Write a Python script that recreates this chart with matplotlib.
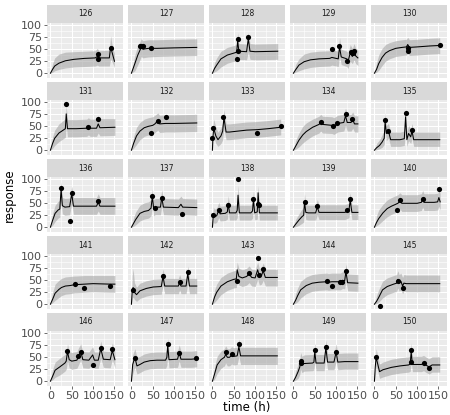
import matplotlib
matplotlib.use("Agg")
import matplotlib.pyplot as plt
from matplotlib.ticker import FixedLocator

# pannelli (soggetti)
ids = list(range(126, 151))

# curva mediana: tempi e valori per pannello
line_t = [
    [0, 5, 10, 20, 35, 55, 80, 105, 110, 113, 116, 138, 141, 144, 150],
    [0, 8, 15, 20, 23, 27, 32, 40, 60, 100, 153],
    [0, 5, 10, 20, 35, 50, 57, 59, 62, 80, 84, 88, 100, 153],
    [0, 5, 13, 25, 40, 60, 85, 90, 95, 105, 108, 112, 125, 128, 133, 138, 142, 146, 151],
    [0, 5, 10, 18, 26, 35, 50, 65, 75, 78, 82, 100, 130, 153],
    [0, 5, 10, 20, 30, 35, 37, 40, 60, 85, 89, 93, 108, 112, 116, 151],
    [0, 5, 12, 20, 30, 40, 50, 55, 62, 66, 80, 100, 153],
    [0, 1, 3, 8, 13, 20, 24, 27, 32, 40, 60, 80, 105, 130, 160],
    [0, 5, 13, 22, 30, 45, 60, 64, 68, 90, 95, 100, 104, 118, 122, 126, 135, 139, 143, 151],
    [0, 5, 12, 18, 23, 25, 28, 33, 38, 60, 70, 73, 76, 80, 85, 88, 92, 110, 153],
    [0, 5, 11, 18, 22, 25, 28, 34, 45, 50, 54, 100, 108, 112, 116, 151],
    [0, 5, 10, 20, 30, 40, 46, 49, 52, 56, 68, 71, 75, 110, 116, 120, 153],
    [0, 2, 5, 10, 15, 18, 30, 35, 37, 40, 55, 58, 60, 63, 90, 94, 96, 99, 105, 107, 110, 152],
    [0, 5, 13, 20, 24, 26, 29, 35, 52, 56, 60, 120, 126, 130, 133, 137, 151],
    [0, 5, 10, 20, 30, 40, 55, 60, 64, 100, 110, 113, 116, 140, 148, 151, 154],
    [0, 5, 11, 20, 26, 35, 46, 57, 60, 80, 100, 140, 151],
    [0, 2, 4, 7, 12, 20, 35, 51, 70, 74, 78, 110, 113, 116, 128, 132, 136, 153],
    [0, 5, 10, 20, 35, 50, 56, 58, 62, 70, 80, 86, 92, 100, 106, 110, 115, 119, 124, 152],
    [0, 5, 10, 17, 30, 44, 60, 78, 82, 90, 110, 115, 120, 123, 127, 151],
    [0, 5, 10, 19, 30, 45, 52, 55, 58, 62, 66, 69, 75, 100, 153],
    [0, 5, 11, 22, 34, 37, 40, 44, 50, 62, 66, 71, 76, 90, 99, 103, 112, 118, 124, 140, 145, 151],
    [0, 3, 8, 13, 20, 30, 44, 60, 80, 83, 85, 88, 108, 112, 116, 140, 153],
    [0, 5, 11, 20, 28, 31, 35, 40, 45, 50, 58, 62, 66, 100, 152],
    [0, 5, 11, 15, 17, 20, 25, 45, 48, 50, 53, 72, 76, 80, 95, 100, 104, 120, 151],
    [0, 2, 4, 8, 12, 20, 40, 60, 80, 84, 86, 89, 110, 115, 120, 128, 135, 153],
]
line_y = [
    [0, 8, 15, 21, 26, 29, 31, 32, 35, 32, 32, 32, 55, 45, 25],
    [0, 20, 38, 48, 55, 50, 51, 52, 52, 53, 54],
    [0, 10, 17, 30, 38, 42, 44, 68, 46, 45, 72, 46, 45, 46],
    [0, 7, 17, 24, 28, 30, 31, 33, 32, 30, 55, 34, 30, 25, 42, 35, 45, 36, 32],
    [0, 8, 20, 33, 42, 47, 52, 54, 55, 60, 54, 55, 57, 58],
    [0, 14, 25, 36, 42, 45, 76, 45, 45, 46, 49, 46, 46, 55, 47, 48],
    [0, 14, 30, 40, 47, 50, 52, 55, 62, 55, 56, 56, 57],
    [0, 25, 46, 30, 22, 30, 40, 68, 38, 38, 40, 42, 43, 45, 48],
    [0, 8, 21, 32, 39, 48, 54, 58, 54, 52, 50, 53, 56, 58, 72, 58, 58, 64, 55, 55],
    [0, 5, 10, 17, 25, 60, 35, 40, 22, 22, 24, 70, 22, 35, 28, 40, 22, 22, 22],
    [0, 14, 29, 36, 38, 80, 45, 42, 43, 70, 44, 44, 44, 52, 44, 44],
    [0, 8, 16, 29, 33, 35, 40, 64, 40, 42, 42, 62, 42, 41, 48, 42, 41],
    [0, 25, 22, 24, 36, 28, 29, 32, 50, 30, 30, 35, 67, 30, 30, 34, 58, 30, 32, 72, 30, 30],
    [0, 6, 15, 22, 25, 53, 31, 30, 30, 42, 31, 31, 33, 35, 56, 31, 31],
    [0, 10, 18, 30, 39, 44, 50, 55, 50, 50, 52, 60, 52, 52, 53, 62, 53],
    [0, 10, 23, 31, 35, 38, 39, 41, 41, 42, 43, 42, 42],
    [0, 30, 35, 25, 20, 28, 33, 36, 37, 58, 38, 38, 46, 38, 38, 64, 38, 38],
    [0, 15, 25, 38, 47, 52, 53, 72, 58, 55, 58, 63, 56, 55, 72, 58, 60, 70, 56, 56],
    [0, 8, 18, 30, 39, 44, 46, 47, 46, 47, 47, 50, 49, 68, 45, 44],
    [0, 6, 14, 30, 37, 42, 44, 52, 44, 48, 38, 44, 43, 43, 43],
    [0, 10, 23, 30, 38, 42, 62, 45, 42, 44, 52, 62, 45, 44, 55, 44, 44, 68, 46, 45, 64, 45],
    [0, 35, 50, 32, 35, 40, 43, 44, 44, 50, 75, 45, 46, 60, 46, 46, 47],
    [0, 15, 34, 45, 50, 56, 50, 50, 54, 52, 53, 72, 53, 53, 53],
    [0, 8, 20, 30, 42, 34, 37, 38, 40, 62, 38, 38, 70, 40, 40, 61, 40, 41, 41],
    [0, 30, 50, 35, 20, 24, 29, 32, 34, 36, 62, 35, 35, 37, 34, 30, 34, 34],
]
# banda grigia (limiti inferiore e superiore)
band_lo = [
    [0, 2, 5, 8, 11, 13, 14, 15, 17, 15, 15, 15, 30, 25, 12],
    [0, 5, 18, 28, 35, 32, 33, 34, 35, 36, 37],
    [0, 3, 5, 13, 21, 25, 27, 40, 29, 28, 45, 29, 28, 29],
    [0, 2, 5, 9, 12, 14, 15, 17, 16, 14, 35, 18, 14, 10, 25, 20, 28, 20, 16],
    [0, 2, 6, 16, 25, 30, 35, 37, 38, 42, 37, 38, 40, 41],
    [0, 4, 10, 18, 24, 27, 50, 28, 28, 29, 32, 29, 29, 36, 30, 31],
    [0, 4, 12, 22, 29, 32, 34, 37, 42, 37, 38, 38, 39],
    [0, 10, 28, 14, 8, 14, 22, 45, 22, 22, 24, 26, 27, 29, 32],
    [0, 2, 7, 15, 21, 30, 36, 40, 36, 35, 33, 36, 38, 40, 52, 40, 40, 46, 38, 38],
    [0, 1, 3, 6, 12, 40, 20, 25, 8, 8, 10, 50, 8, 20, 14, 25, 8, 8, 8],
    [0, 4, 12, 19, 21, 55, 28, 25, 26, 50, 27, 27, 27, 34, 27, 27],
    [0, 2, 5, 13, 17, 19, 24, 45, 24, 26, 26, 44, 26, 25, 32, 26, 25],
    [0, 10, 8, 10, 20, 13, 14, 17, 32, 15, 15, 20, 45, 15, 15, 19, 40, 15, 17, 50, 15, 15],
    [0, 1, 4, 8, 11, 35, 16, 15, 15, 26, 16, 16, 18, 20, 38, 16, 16],
    [0, 3, 6, 14, 22, 27, 33, 38, 33, 33, 35, 42, 35, 35, 36, 44, 36],
    [0, 3, 8, 14, 18, 21, 22, 24, 24, 25, 26, 25, 25],
    [0, 10, 15, 10, 6, 12, 17, 20, 21, 40, 22, 22, 30, 22, 22, 45, 22, 22],
    [0, 4, 9, 20, 29, 34, 35, 52, 40, 37, 40, 45, 38, 37, 52, 40, 42, 50, 38, 38],
    [0, 2, 5, 13, 22, 27, 29, 30, 29, 30, 30, 33, 32, 48, 28, 27],
    [0, 1, 4, 13, 20, 25, 27, 34, 27, 30, 22, 27, 26, 26, 26],
    [0, 3, 8, 13, 21, 25, 42, 28, 25, 27, 35, 44, 28, 27, 37, 27, 27, 48, 29, 28, 45, 28],
    [0, 15, 30, 15, 18, 23, 26, 27, 27, 33, 55, 28, 29, 42, 29, 29, 30],
    [0, 4, 16, 27, 32, 38, 32, 32, 36, 34, 35, 52, 35, 35, 35],
    [0, 2, 6, 14, 25, 18, 21, 22, 24, 42, 22, 22, 50, 24, 24, 42, 24, 25, 25],
    [0, 12, 32, 20, 6, 9, 14, 17, 19, 21, 42, 20, 20, 22, 19, 15, 19, 19],
]
band_hi = [
    [0, 20, 32, 40, 44, 45, 46, 47, 52, 47, 47, 48, 78, 62, 42],
    [0, 38, 58, 66, 72, 68, 69, 70, 70, 71, 72],
    [0, 22, 32, 46, 54, 58, 60, 85, 62, 61, 85, 62, 61, 62],
    [0, 18, 30, 40, 44, 46, 47, 50, 48, 46, 75, 50, 46, 42, 60, 52, 62, 52, 48],
    [0, 22, 38, 52, 60, 64, 68, 70, 71, 75, 70, 71, 73, 74],
    [0, 28, 42, 55, 62, 66, 92, 64, 64, 65, 68, 65, 65, 72, 66, 66],
    [0, 28, 48, 58, 65, 68, 70, 73, 78, 73, 74, 74, 75],
    [0, 45, 65, 48, 38, 46, 58, 85, 55, 55, 57, 59, 60, 62, 65],
    [0, 20, 36, 50, 57, 65, 71, 75, 71, 70, 68, 71, 73, 75, 88, 75, 75, 80, 72, 72],
    [0, 14, 22, 32, 42, 78, 52, 56, 38, 38, 40, 88, 38, 52, 44, 56, 38, 38, 38],
    [0, 28, 46, 54, 56, 95, 62, 60, 61, 86, 62, 62, 62, 70, 62, 62],
    [0, 20, 32, 46, 51, 53, 58, 80, 58, 60, 60, 78, 60, 59, 65, 60, 59],
    [0, 42, 38, 40, 52, 44, 45, 48, 66, 46, 46, 52, 88, 46, 46, 50, 76, 46, 48, 88, 46, 46],
    [0, 16, 28, 38, 42, 70, 47, 46, 46, 58, 47, 47, 49, 51, 72, 47, 47],
    [0, 24, 36, 48, 57, 62, 68, 72, 68, 68, 70, 77, 70, 70, 71, 79, 71],
    [0, 24, 42, 50, 54, 57, 58, 59, 59, 60, 60, 60, 60],
    [0, 60, 75, 45, 36, 44, 49, 52, 53, 75, 54, 54, 62, 54, 54, 80, 54, 54],
    [0, 30, 42, 56, 65, 70, 71, 88, 75, 72, 75, 80, 73, 72, 88, 75, 77, 86, 73, 73],
    [0, 22, 34, 48, 57, 62, 64, 65, 64, 65, 65, 68, 67, 84, 63, 62],
    [0, 18, 30, 48, 55, 60, 62, 70, 62, 65, 56, 62, 61, 61, 61],
    [0, 24, 40, 48, 56, 60, 78, 62, 60, 62, 70, 78, 62, 61, 72, 61, 61, 84, 63, 62, 80, 62],
    [0, 55, 68, 50, 52, 57, 60, 61, 61, 67, 90, 62, 63, 76, 63, 63, 64],
    [0, 30, 52, 63, 68, 74, 68, 68, 72, 70, 71, 88, 71, 71, 71],
    [0, 20, 36, 48, 60, 52, 55, 56, 58, 80, 56, 56, 86, 58, 58, 78, 58, 59, 59],
    [0, 48, 68, 52, 36, 40, 46, 49, 51, 53, 80, 52, 52, 54, 51, 47, 51, 51],
]
# osservazioni
obs_t = [
    [112, 112, 142], [20, 23, 26, 45], [58, 59, 60, 84], [90, 107, 126, 134, 140, 143],
    [78, 78, 153], [36, 89, 112], [47, 63, 81], [0, 2, 25, 105, 160],
    [64, 93, 103, 122, 138], [24, 32, 73, 87], [25, 46, 50, 112], [49, 55, 71, 118],
    [2, 15, 37, 60, 96, 106, 108], [26, 56, 126, 133], [53, 60, 113, 152], [58, 79, 140],
    [4, 75, 114, 133], [58, 86, 106, 110, 119], [79, 91, 110, 113, 122], [13, 55, 67],
    [40, 65, 71, 99, 118, 145], [8, 85, 112, 151], [31, 45, 62], [17, 17, 50, 76, 100],
    [4, 86, 86, 115, 128],
]
obs_y = [
    [40, 30, 52], [56, 56, 56, 53], [29, 71, 47, 76], [51, 56, 26, 45, 42, 47],
    [52, 47, 59], [97, 49, 65], [37, 61, 70], [26, 46, 69, 37, 51],
    [60, 51, 56, 75, 65], [63, 40, 78, 42], [83, 12, 72, 55], [65, 40, 62, 28],
    [26, 36, 46, 101, 60, 48, 46], [52, 44, 36, 58], [35, 56, 60, 80], [42, 33, 39],
    [30, 60, 47, 67], [49, 65, 97, 62, 73], [49, 39, 47, 46, 70], [-3, 49, 33],
    [64, 53, 62, 34, 69, 67], [49, 77, 60, 49], [62, 56, 77], [39, 43, 65, 72, 62],
    [51, 65, 41, 39, 27],
]

x_major = [0, 50, 100, 150]
x_minor = [25, 75, 125]
y_major = [0, 25, 50, 75, 100]
y_minor = [12.5, 37.5, 62.5, 87.5]

W, H = 450, 415
NCOL = 5
LEFT, TOP = 47, 5
PW, PH, SH = 76, 55, 18
XSTEP, YSTEP = 81, 77

fig = plt.figure(figsize=(W / 100, H / 100), dpi=100)

for i, pid in enumerate(ids):
    r, c = divmod(i, NCOL)
    x0 = LEFT + XSTEP * c
    y0 = TOP + YSTEP * r

    # striscia del titolo del pannello
    sax = fig.add_axes([x0 / W, 1 - (y0 + SH) / H, PW / W, SH / H])
    sax.set_facecolor("#D9D9D9")
    sax.set_xticks([])
    sax.set_yticks([])
    for sp in sax.spines.values():
        sp.set_visible(False)
    sax.text(0.5, 0.5, str(pid), ha="center", va="center",
             fontsize=5.5, color="#1A1A1A", transform=sax.transAxes)

    ax = fig.add_axes([x0 / W, 1 - (y0 + SH + PH) / H, PW / W, PH / H])
    ax.set_facecolor("#EBEBEB")
    ax.set_xlim(-8, 170)
    ax.set_ylim(-10, 105)
    ax.xaxis.set_major_locator(FixedLocator(x_major))
    ax.xaxis.set_minor_locator(FixedLocator(x_minor))
    ax.yaxis.set_major_locator(FixedLocator(y_major))
    ax.yaxis.set_minor_locator(FixedLocator(y_minor))
    ax.grid(which="major", color="white", lw=0.75)
    ax.grid(which="minor", color="white", lw=0.4)
    ax.set_axisbelow(True)
    for sp in ax.spines.values():
        sp.set_visible(False)

    ax.fill_between(line_t[i], band_lo[i], band_hi[i], color="#A8A8A8", alpha=0.6, lw=0)
    ax.plot(line_t[i], line_y[i], color="black", lw=0.75)
    ax.scatter(obs_t[i], obs_y[i], s=14, color="black", zorder=3, linewidths=0)

    ax.tick_params(which="minor", length=0)
    ax.tick_params(which="major", length=2.4, width=0.5, color="#333333",
                   labelsize=8, labelcolor="#4D4D4D", pad=1)
    if c != 0:
        ax.tick_params(axis="y", left=False, labelleft=False)
    if r != (len(ids) - 1) // NCOL:
        ax.tick_params(axis="x", bottom=False, labelbottom=False)

fig.text(247 / W, 1 - 407 / H, "time (h)", ha="center", va="center", fontsize=8.5)
fig.text(9 / W, 1 - 195 / H, "response", ha="center", va="center",
         rotation=90, fontsize=8.5)

fig.savefig("out.png", dpi=100)
